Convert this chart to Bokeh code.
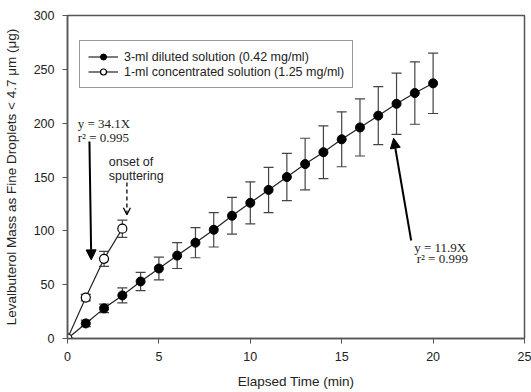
from bokeh.plotting import figure
from bokeh.models import (ColumnDataSource, Whisker, TeeHead, Arrow, NormalHead, OpenHead,
                          FixedTicker, Legend, LegendItem, Label)
from bokeh.embed import file_html
from bokeh.resources import INLINE

# ---- data ----
t_diluted = list(range(21))
m_diluted = [0, 14, 28, 40, 53, 65, 77, 89, 101, 114, 126, 138, 150, 162, 173, 185, 196, 207, 218, 228, 237]
sd_diluted = [0, 3, 4, 7, 8.5, 10.5, 12, 14, 16, 17, 19.5, 21, 22, 24, 24.5, 25.5, 26.5, 27, 28.5, 29, 28]

t_conc = [0, 1, 2, 3]
m_conc = [0, 38, 74, 102]
sd_conc = [0, 3, 7, 8]

x_ticks = [0, 5, 10, 15, 20, 25]
y_ticks = [0, 50, 100, 150, 200, 250, 300]

label_diluted = "3-ml diluted solution (0.42 mg/ml)"
label_conc = "1-ml concentrated solution (1.25 mg/ml)"

SANS = "Liberation Sans"
SERIF = "Liberation Serif"
INK = "#222222"

p = figure(width=531, height=392, x_range=(0, 25), y_range=(0, 300),
           output_backend="svg", toolbar_location=None,
           min_border_left=67, min_border_right=7, min_border_top=15, min_border_bottom=54)
p.background_fill_color = "white"
p.border_fill_color = "white"
p.outline_line_color = "#555555"
p.outline_line_width = 1.5
p.xgrid.visible = False
p.ygrid.visible = False

for ax in (p.xaxis[0], p.yaxis[0]):
    ax.axis_line_color = "#555555"
    ax.axis_line_width = 1.5
    ax.major_tick_line_color = "#555555"
    ax.major_tick_out = 5
    ax.major_tick_in = 0
    ax.minor_tick_line_color = None
    ax.major_label_text_font = SANS
    ax.major_label_text_font_size = "12.5px"
    ax.major_label_text_color = INK
    ax.axis_label_text_font = SANS
    ax.axis_label_text_font_size = "13.5px"
    ax.axis_label_text_font_style = "normal"
    ax.axis_label_text_color = INK

p.xaxis.ticker = FixedTicker(ticks=x_ticks)
p.yaxis.ticker = FixedTicker(ticks=y_ticks)
p.xaxis.axis_label = "Elapsed Time (min)"
p.yaxis.axis_label = "Levalbuterol Mass as Fine Droplets < 4.7 \u03bcm (\u03bcg)"
p.xaxis.major_label_standoff = 8
p.xaxis.axis_label_standoff = 10
p.yaxis.major_label_standoff = 8
p.yaxis.axis_label_standoff = 12

# ---- error bars ----
def whisker_source(t, m, sd):
    xs, up, lo = [], [], []
    for ti, mi, si in zip(t, m, sd):
        if si > 0:
            xs.append(ti)
            up.append(mi + si)
            lo.append(mi - si)
    return ColumnDataSource(dict(x=xs, upper=up, lower=lo))

for t, m, sd in ((t_diluted, m_diluted, sd_diluted), (t_conc, m_conc, sd_conc)):
    w = Whisker(base="x", upper="upper", lower="lower", source=whisker_source(t, m, sd),
                line_color="#444444", line_width=1.2,
                upper_head=TeeHead(size=10, line_color="#444444", line_width=1.2),
                lower_head=TeeHead(size=10, line_color="#444444", line_width=1.2),
                level="underlay")
    p.add_layout(w)

# ---- series ----
src_d = ColumnDataSource(dict(x=t_diluted, y=m_diluted))
src_c = ColumnDataSource(dict(x=t_conc, y=m_conc))

ld = p.line("x", "y", source=src_d, line_color="#222222", line_width=1.2)
sd_r = p.scatter("x", "y", source=src_d, marker="circle", size=9,
                 fill_color="black", line_color="black")
lc = p.line("x", "y", source=src_c, line_color="#222222", line_width=1.2)
sc_r = p.scatter("x", "y", source=src_c, marker="circle", size=9,
                 fill_color="white", line_color="black", line_width=1.2)

legend = Legend(items=[LegendItem(label=label_diluted, renderers=[ld, sd_r]),
                       LegendItem(label=label_conc, renderers=[lc, sc_r])],
                location=(12, 250), orientation="vertical",
                label_text_font=SANS, label_text_font_size="12.5px", label_text_color=INK,
                glyph_width=30, glyph_height=15, label_height=15, label_standoff=6,
                spacing=0, padding=8, margin=0,
                border_line_color="#333333", border_line_width=1.2,
                background_fill_color="white", background_fill_alpha=1)
p.add_layout(legend)

# ---- annotations ----
def add_label(x, y, text, font, size="12.5px", align="left"):
    p.add_layout(Label(x=x, y=y, text=text, text_font=font, text_font_size=size,
                       text_color=INK, text_align=align, text_baseline="middle"))

add_label(0.56, 199.5, "y = 34.1X", SERIF, size="13px")
add_label(0.56, 186.5, "r\u00b2 = 0.995", SERIF, size="13px")
add_label(2.26, 163.5, "onset of", SANS, size="12.5px")
add_label(2.26, 151.0, "sputtering", SANS, size="12.5px")
add_label(18.97, 84.5, "y = 11.9X", SERIF, size="13px")
add_label(19.1, 74.3, "r\u00b2 = 0.999", SERIF, size="13px")

p.add_layout(Arrow(x_start=1.2, y_start=183, x_end=1.3, y_end=73,
                   line_color="black", line_width=2,
                   end=NormalHead(size=10, fill_color="black", line_color="black")))
p.add_layout(Arrow(x_start=3.25, y_start=145, x_end=3.25, y_end=115,
                   line_color="black", line_width=1.3, line_dash="4 3",
                   end=OpenHead(size=7, line_color="black", line_width=1.3)))
p.add_layout(Arrow(x_start=18.8, y_start=91, x_end=17.84, y_end=186,
                   line_color="black", line_width=2,
                   end=NormalHead(size=10, fill_color="black", line_color="black")))

open("out.html", "w").write(file_html(p, INLINE))
